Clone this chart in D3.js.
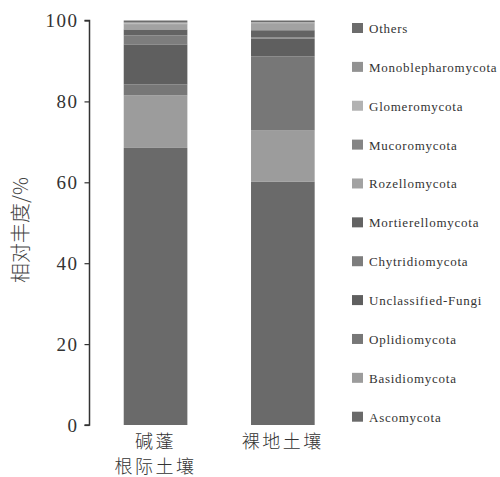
<!DOCTYPE html>
<html><head><meta charset="utf-8">
<script src="https://cdn.jsdelivr.net/npm/d3@7"></script>
<style>body{margin:0;background:#fff}svg{display:block}</style>
</head><body><svg id="c" width="500" height="477"></svg>
<script>
const categories = ["碱蓬根际土壤", "裸地土壤"];
const categoryLines = [["碱蓬", "根际土壤"], ["裸地土壤"]];
// stacked bottom -> top
const seriesNames = ["Ascomycota","Basidiomycota","Oplidiomycota","Unclassified-Fungi","Chytridiomycota","Mortierellomycota","Rozellomycota","Mucoromycota","Glomeromycota","Monoblepharomycota","Others"];
const ascomycota = [68.5, 60.2];
const basidiomycota = [13.0, 12.6];
const oplidiomycota = [2.7, 18.3];
const unclassifiedFungi = [9.9, 4.4];
const chytridiomycota = [2.2, 0.3];
const mortierellomycota = [1.5, 1.8];
const rozellomycota = [1.2, 1.7];
const mucoromycota = [0.2, 0.1];
const glomeromycota = [0.2, 0.1];
const monoblepharomycota = [0.2, 0.1];
const others = [0.4, 0.4];
const seriesValues = [ascomycota, basidiomycota, oplidiomycota, unclassifiedFungi, chytridiomycota, mortierellomycota, rozellomycota, mucoromycota, glomeromycota, monoblepharomycota, others];
const colors = ["#6a6a6a","#9c9c9c","#777777","#5f5f5f","#7d7d7d","#636363","#a2a2a2","#858585","#b2b2b2","#929292","#6c6c6c"];
const yTicks = [0, 20, 40, 60, 80, 100];

const svg = d3.select("#c");
const x = d3.scaleBand().domain(categories).range([91.9, 346.5]).paddingInner(0.5).paddingOuter(0.25);
const y = d3.scaleLinear().domain([0, 100]).range([425, 20.5]);

const table = categories.map((c, i) => {
  const o = {cat: c};
  seriesNames.forEach((s, j) => o[s] = seriesValues[j][i]);
  return o;
});
const stacked = d3.stack().keys(seriesNames)(table);

svg.append("g").selectAll("g").data(stacked).join("g")
  .attr("fill", (d, i) => colors[i])
  .selectAll("rect").data(d => d).join("rect")
  .attr("x", d => x(d.data.cat))
  .attr("width", x.bandwidth())
  .attr("y", d => y(d[1]))
  .attr("height", d => y(d[0]) - y(d[1]));

// y axis
const yAxis = svg.append("g").attr("transform", "translate(89.5,0)")
  .call(d3.axisLeft(y).tickValues(yTicks).tickSize(5).tickPadding(6));
yAxis.select(".domain").attr("stroke", "#333").attr("stroke-width", 1.5).attr("d", `M-5,${y(100)}H0V${y(0)}H-5`);
yAxis.selectAll(".tick line").attr("stroke", "#333").attr("stroke-width", 1.2);
yAxis.selectAll(".tick text").attr("font-family", "'Liberation Serif', serif").attr("font-size", 19)
  .attr("fill", "#333").attr("letter-spacing", 1.5);

// y title
svg.append("text").attr("transform", `translate(28,${230}) rotate(-90)`)
  .attr("text-anchor", "middle").attr("font-family", "'Noto Sans CJK SC', sans-serif")
  .attr("font-size", 20).attr("font-weight", 300).attr("fill", "#444").text("相对丰度/%");

// x labels
categories.forEach((c, i) => {
  categoryLines[i].forEach((line, k) => {
    svg.append("text").attr("x", x(c) + x.bandwidth() / 2).attr("y", 448 + k * 25)
      .attr("text-anchor", "middle").attr("font-family", "'Noto Sans CJK SC', sans-serif")
      .attr("font-size", 18).attr("font-weight", 300).attr("letter-spacing", 2.5).attr("fill", "#333").text(line);
  });
});

// legend (top -> bottom reversed order)
const legendNames = seriesNames.slice().reverse();
const legendColors = colors.slice().reverse();
const lg = svg.append("g").selectAll("g").data(legendNames).join("g")
  .attr("transform", (d, i) => `translate(352,${28 + i * 38.87})`);
lg.append("rect").attr("x", 0).attr("y", -5).attr("width", 11).attr("height", 10)
  .attr("fill", (d, i) => legendColors[i]);
lg.append("text").attr("x", 17).attr("y", 5).attr("font-family", "'Liberation Serif', serif")
  .attr("font-size", 13).attr("letter-spacing", 0.75).attr("fill", "#333").text(d => d);
</script></body></html>
